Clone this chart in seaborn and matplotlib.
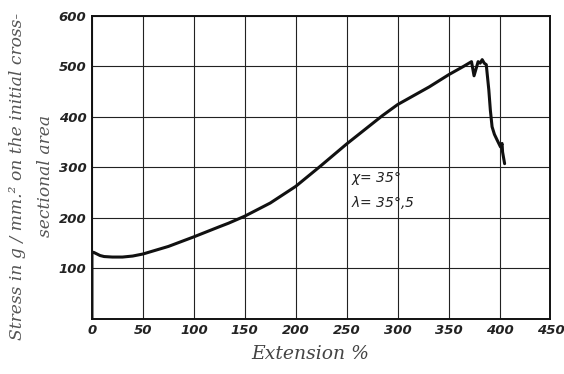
import numpy as np
import matplotlib
matplotlib.use("Agg")
import matplotlib.pyplot as plt
import pandas as pd
import seaborn as sns

# curve
extension = [0, 0, 2, 5, 8, 12, 20, 30, 40, 50, 75, 100, 125, 134, 150, 175, 200,
             223, 250, 275, 285, 300, 331, 350, 365, 372.5, 375, 377, 379, 381,
             383, 385, 387, 389.5, 391, 392.7, 395, 397.6, 401, 402.5, 403, 405]
stress = [0, 132, 131, 128, 125, 123, 122, 122, 124, 128, 143, 162, 182, 189, 203,
          229, 262, 300, 346, 386, 402, 424, 459, 483, 500, 509, 481, 495, 509,
          506, 513, 506, 503, 453, 413, 380, 365, 354, 340, 347, 330, 307]

xticks = [0, 50, 100, 150, 200, 250, 300, 350, 400, 450]
yticks = [100, 200, 300, 400, 500, 600]
note_lines = [r"$\chi$= 35$\degree$", r"$\lambda$= 35$\degree$,5"]

sns.set_style("white")
plt.rcParams['mathtext.fontset'] = 'dejavusans'

df = pd.DataFrame({"ext": extension, "stress": stress})

fig = plt.figure(figsize=(5.64, 3.74), dpi=100)
ax = fig.add_axes([0.163, 0.148, 0.813, 0.81])

sns.lineplot(data=df, x="ext", y="stress", sort=False, estimator=None,
             color="#111111", linewidth=2.2, ax=ax, zorder=3)

ax.set_xlim(0, 450)
ax.set_ylim(0, 600)
ax.set_xticks(xticks)
ax.set_yticks(yticks)
ax.grid(True, color="#222222", linewidth=0.8)
for s in ax.spines.values():
    s.set_color("#111111")
    s.set_linewidth(1.4)

ax.tick_params(length=0, pad=4)
tick_font = dict(family="DejaVu Sans", style="italic", size=9.5, weight="bold")
ax.set_xticklabels([str(t) for t in xticks], fontdict=tick_font, color="#222222")
ax.set_yticklabels([str(t) for t in yticks], fontdict=tick_font, color="#222222")

label_font = dict(family="DejaVu Serif", style="italic", size=13.5)
ax.set_xlabel("Extension %", fontdict=label_font, color="#444444")
ax.xaxis.set_label_coords(0.476, -0.086)
ax.set_ylabel("Stress in g / mm.² on the initial cross-\nsectional area",
              fontdict=dict(label_font, size=12.3), color="#555555",
              linespacing=1.85)
ax.yaxis.set_label_coords(-0.083, 0.47)

ax.text(254, 278, note_lines[0], fontsize=10, style="italic", color="#222222", va="center")
ax.text(254, 230, note_lines[1], fontsize=10, style="italic", color="#222222", va="center")

fig.savefig("out.png", dpi=100)
